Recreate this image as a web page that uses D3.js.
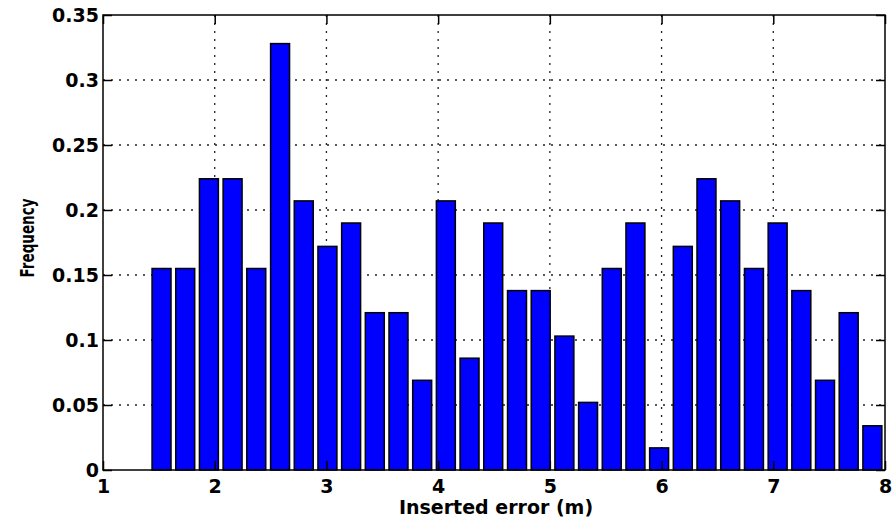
<!DOCTYPE html>
<html>
<head>
<meta charset="utf-8">
<script src="https://cdn.jsdelivr.net/npm/d3@7"></script>
<style>
  html, body { margin: 0; padding: 0; background: #fff; }
  svg { display: block; }
</style>
</head>
<body>
<script>
// bin centres (m) and frequencies
const binCenters = [1.524, 1.736, 1.948, 2.160, 2.372, 2.585, 2.797, 3.009, 3.221, 3.433,
  3.645, 3.857, 4.069, 4.281, 4.493, 4.706, 4.918, 5.130, 5.342, 5.554,
  5.766, 5.978, 6.190, 6.402, 6.614, 6.827, 7.039, 7.251, 7.463, 7.675, 7.887]
const frequency = [0.155, 0.155, 0.224, 0.224, 0.155, 0.328, 0.207, 0.172, 0.190, 0.121,
  0.121, 0.069, 0.207, 0.086, 0.190, 0.138, 0.138, 0.103, 0.052, 0.155,
  0.190, 0.017, 0.172, 0.224, 0.207, 0.155, 0.190, 0.138, 0.069, 0.121, 0.034]
const xTicks = [1, 2, 3, 4, 5, 6, 7, 8]
const xTickLabels = ["1", "2", "3", "4", "5", "6", "7", "8"]
const yTicks = [0, 0.05, 0.1, 0.15, 0.2, 0.25, 0.3, 0.35]
const yTickLabels = ["0", "0.05", "0.1", "0.15", "0.2", "0.25", "0.3", "0.35"]

const width = 895, height = 517
const plot = { left: 103, right: 885, top: 15, bottom: 470 }
const binStep = 0.212
const font = "'DejaVu Sans', sans-serif"

const x = d3.scaleLinear().domain([1, 8]).range([plot.left, plot.right])
const y = d3.scaleLinear().domain([0, 0.35]).range([plot.bottom, plot.top])

const svg = d3.select("body").append("svg")
    .attr("width", width)
    .attr("height", height)
    .attr("xmlns", "http://www.w3.org/2000/svg")

// dotted grid (behind the bars)
const grid = svg.append("g")
    .attr("stroke", "#222")
    .attr("stroke-width", 1.3)
    .attr("stroke-dasharray", "2,6")
grid.selectAll(".gx")
  .data(xTicks.slice(1, -1))
  .join("line")
    .attr("x1", d => x(d)).attr("x2", d => x(d))
    .attr("y1", plot.top).attr("y2", plot.bottom)
grid.selectAll(".gy")
  .data(yTicks.slice(1, -1))
  .join("line")
    .attr("x1", plot.left).attr("x2", plot.right)
    .attr("y1", d => y(d)).attr("y2", d => y(d))

// bars
const barW = x(1 + binStep * 0.8) - x(1)
svg.append("g")
  .selectAll("rect")
  .data(frequency)
  .join("rect")
    .attr("x", (d, i) => x(binCenters[i]) - barW / 2)
    .attr("y", d => y(d))
    .attr("width", barW)
    .attr("height", d => y(0) - y(d))
    .attr("fill", "#0000ff")
    .attr("stroke", "#000")
    .attr("stroke-width", 1.5)

// axes: ticks inside, labels outside
const axisBottom = d3.axisBottom(x).tickValues(xTicks).tickSizeInner(-9).tickSizeOuter(0).tickPadding(10)
    .tickFormat((d, i) => xTickLabels[i])
const axisTop = d3.axisTop(x).tickValues(xTicks).tickSizeInner(-9).tickSizeOuter(0).tickFormat("")
const axisLeft = d3.axisLeft(y).tickValues(yTicks).tickSizeInner(-9).tickSizeOuter(0).tickPadding(4)
    .tickFormat((d, i) => yTickLabels[i])
const axisRight = d3.axisRight(y).tickValues(yTicks).tickSizeInner(-9).tickSizeOuter(0).tickFormat("")

const styleAxis = g => {
  g.select(".domain").remove()
  g.selectAll(".tick line").attr("stroke", "#000").attr("stroke-width", 1.5)
  g.selectAll(".tick text")
      .attr("fill", "#000")
      .style("font-family", font)
      .style("font-weight", "bold")
      .style("font-size", "19px")
}

svg.append("g").attr("transform", `translate(0,${plot.bottom})`).call(axisBottom).call(styleAxis)
svg.append("g").attr("transform", `translate(0,${plot.top})`).call(axisTop).call(styleAxis)
svg.append("g").attr("transform", `translate(${plot.left},0)`).call(axisLeft).call(styleAxis)
svg.append("g").attr("transform", `translate(${plot.right},0)`).call(axisRight).call(styleAxis)

// box
svg.append("rect")
    .attr("x", plot.left)
    .attr("y", plot.top)
    .attr("width", plot.right - plot.left)
    .attr("height", plot.bottom - plot.top)
    .attr("fill", "none")
    .attr("stroke", "#000")
    .attr("stroke-width", 1.5)

// axis titles
svg.append("text")
    .attr("x", (plot.left + plot.right) / 2 + 2)
    .attr("y", 514)
    .attr("text-anchor", "middle")
    .style("font-family", font)
    .style("font-weight", "bold")
    .style("font-size", "19px")
    .text("Inserted error (m)")

svg.append("text")
    .attr("transform", "translate(34,238) rotate(-90)")
    .attr("text-anchor", "middle")
    .attr("textLength", 79)
    .attr("lengthAdjust", "spacingAndGlyphs")
    .style("font-family", font)
    .style("font-weight", "bold")
    .style("font-size", "20px")
    .text("Frequency")
</script>
</body>
</html>
